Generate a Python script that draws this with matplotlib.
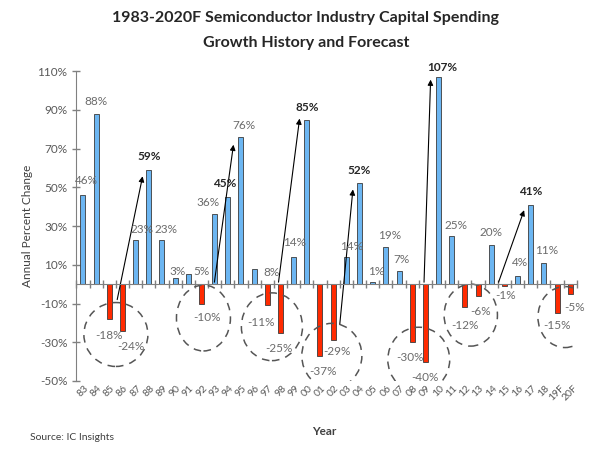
import matplotlib.pyplot as plt
import numpy as np
from matplotlib.patches import Ellipse

years = ["83", "84", "85", "86", "87", "88", "89", "90", "91", "92", "93", "94",
         "95", "96", "97", "98", "99", "00", "01", "02", "03", "04", "05", "06",
         "07", "08", "09", "10", "11", "12", "13", "14", "15", "16", "17", "18",
         "19F", "20F"]
growth = [46, 88, -18, -24, 23, 59, 23, 3, 5, -10, 36, 45,
          76, 8, -11, -25, 14, 85, -37, -29, 14, 52, 1, 19,
          7, -30, -40, 107, 25, -12, -6, 20, -1, 4, 41, 11,
          -15, -5]
peak_years = ["88", "94", "00", "04", "10", "17"]

# label offsets (category units, percent units)
label_dx = [0.28, 0, 0, 0.62, 0.45, 0, 0.3, 0.17, 1.0, 0.4, -0.5, -0.2,
            0.2, 1.3, -0.5, -0.15, 0.1, 0, 0.26, 0.3, 0.4, 0, 0.3, 0.3,
            0.2, -0.15, 0, 0.3, 0.3, 0, 0.2, 0, 0.1, 0.2, 0, 0.2,
            0, 0.3]
label_dy = [7.5, 6.5, -8.3, -8, 5, 7, 5, 3.3, 1.3, -7.4, 6, 7,
            6, -2.2, -9, -8, 7.3, 6.4, -8, -5.6, 5.6, 6.7, 5.3, 6.3,
            5.7, -8, -8, 5, 5.5, -9.2, -8.3, 6.5, -4.7, 7, 6.6, 6.5,
            -6.2, -6.9]

# recovery arrows: (start x, start y, end x, end y)
arrows = [(2.6, -8, 4.53, 55.7), (9.98, 1, 11.43, 72), (14.85, 1, 16.45, 85.5),
          (19.5, -20.8, 20.5, 48.9), (25.9, 1, 26.4, 105.6), (31.56, 1, 33.5, 38.2)]
# downturn circles: (center x, center y, width, height)
circles = [(2.5, -26, 4.86, 33), (9.15, -17.5, 4.1, 34), (14.35, -22, 4.64, 35),
           (18.9, -37, 4.56, 33.5), (25.5, -39, 4.7, 33.5), (29.45, -16, 4.05, 32),
           (36.6, -17, 4.1, 31.5)]

plt.rcParams['font.family'] = ['Lato', 'DejaVu Sans']

fig = plt.figure(figsize=(6, 4.53), dpi=100)
ax = fig.add_axes([0.1273, 0.159, 0.834, 0.684])

x = np.arange(len(years))
colors = ["#6cb6f2" if v >= 0 else "#ff2a00" for v in growth]
ax.bar(x, growth, width=0.38, color=colors, edgecolor="#3a3a3a", linewidth=0.6, zorder=2)

for i, v in enumerate(growth):
    bold = years[i] in peak_years
    ax.text(i + label_dx[i], v + label_dy[i], f"{v}%", ha="center", va="center",
            fontsize=8.5, color="#262626" if bold else "#6b6b6b",
            fontweight="bold" if bold else "normal", zorder=4)

for x0, y0, x1, y1 in arrows:
    ax.annotate("", xy=(x1, y1), xytext=(x0, y0),
                arrowprops=dict(arrowstyle="-|>", color="black", lw=0.8,
                                mutation_scale=8, shrinkA=0, shrinkB=0), zorder=3)

for cx, cy, w, h in circles:
    ax.add_patch(Ellipse((cx, cy), w, h, fill=False, edgecolor="#555555",
                         linestyle=(0, (5, 4)), linewidth=1.1, zorder=3))

ax.set_xlim(-0.5, len(years) - 0.5)
ax.set_ylim(-50, 110)
ax.set_yticks(np.arange(-50, 111, 20))
ax.set_yticklabels([f"{t}%" for t in range(-50, 111, 20)], fontsize=8.5, color="#595959")
ax.tick_params(axis="y", direction="inout", length=6, color="#808080", width=1)

for s in ["top", "right"]:
    ax.spines[s].set_visible(False)
ax.spines["left"].set_color("#808080")
ax.spines["bottom"].set_position(("data", 0))
ax.spines["bottom"].set_color("#808080")
ax.spines["bottom"].set_zorder(3)

ax.set_xticks(x)
ax.set_xticklabels([])
ax.tick_params(axis="x", which="major", length=0)
ax.set_xticks(np.arange(-0.5, len(years), 1), minor=True)
ax.tick_params(axis="x", which="minor", direction="inout", length=6, color="#808080", width=1)

sec = ax.secondary_xaxis("bottom")
sec.set_xticks(x)
sec.set_xticklabels(years, rotation=45, fontsize=7.5, color="#595959",
                    ha="center", va="top", rotation_mode="default")
sec.tick_params(length=0, pad=2)
sec.spines["bottom"].set_visible(False)

ax.set_ylabel("Annual Percent Change", fontsize=8.5, color="#404040", labelpad=3)

fig.text(0.51, 0.96, "1983-2020F Semiconductor Industry Capital Spending",
         ha="center", va="center", fontsize=11.5, fontweight="bold", color="#262626")
fig.text(0.51, 0.905, "Growth History and Forecast",
         ha="center", va="center", fontsize=11.5, fontweight="bold", color="#262626")
fig.text(0.54, 0.047, "Year", ha="center", va="center", fontsize=8.5,
         fontweight="bold", color="#404040")
fig.text(0.05, 0.035, "Source: IC Insights", ha="left", va="center", fontsize=7.5,
         color="#404040")

fig.savefig("out.png", dpi=100)
